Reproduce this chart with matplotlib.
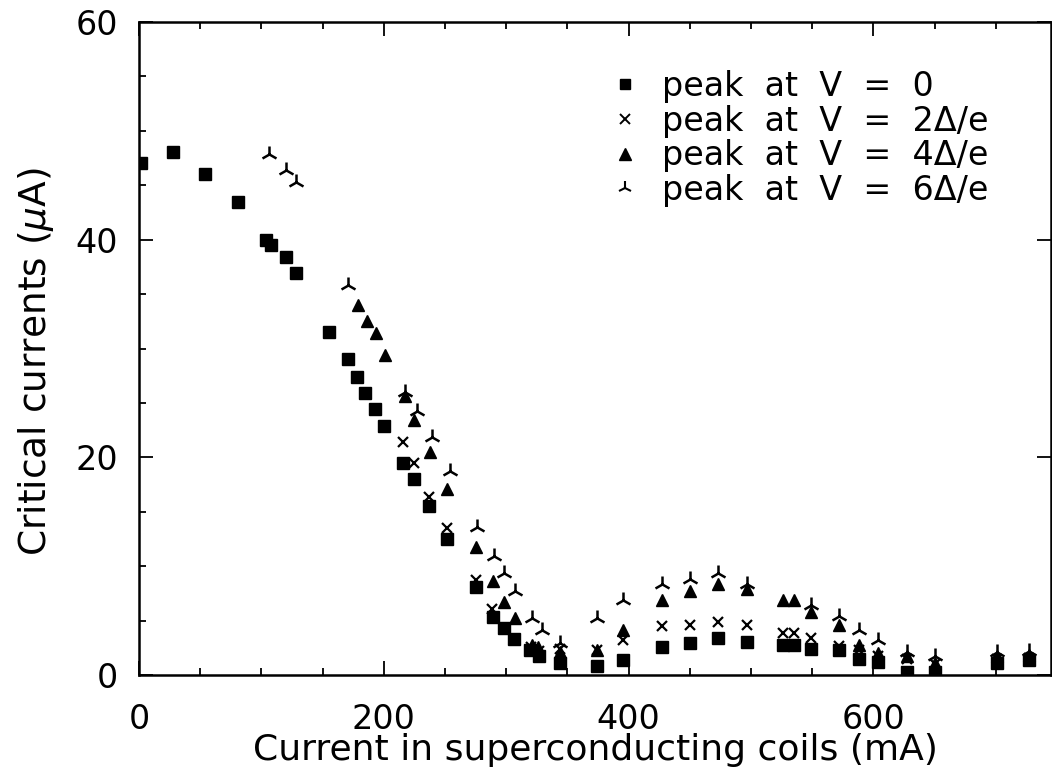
import matplotlib
matplotlib.use("Agg")
import matplotlib.pyplot as plt
from matplotlib.ticker import MultipleLocator, FixedLocator
from matplotlib.lines import Line2D

# ---- data ----
x_v0 = [2, 28, 54, 81, 104, 108, 120, 128, 155, 171, 178, 185, 193, 200, 216, 225,
        237, 252, 275, 289, 298, 306, 319, 327, 344, 374, 395, 427, 450, 473, 497,
        526, 535, 549, 572, 588, 604, 627, 650, 701, 727]
y_v0 = [47.0, 48.1, 46.0, 43.5, 40.0, 39.5, 38.4, 36.9, 31.5, 29.0, 27.4, 25.9, 24.4,
        22.9, 19.5, 18.0, 15.5, 12.5, 8.1, 5.3, 4.3, 3.3, 2.3, 1.7, 1.1, 0.8, 1.4, 2.6,
        2.9, 3.4, 3.0, 2.8, 2.8, 2.4, 2.3, 1.5, 1.2, 0.3, 0.3, 1.1, 1.4]

x_v2 = [216, 225, 237, 252, 275, 288, 320, 327, 344, 374, 395, 427, 450, 473, 497,
        526, 535, 549, 572, 588, 604, 627, 650, 701, 727]
y_v2 = [21.4, 19.5, 16.4, 13.5, 8.7, 6.1, 2.6, 2.2, 2.4, 2.3, 3.2, 4.5, 4.6, 4.9, 4.6,
        3.9, 3.9, 3.4, 2.7, 2.3, 1.7, 1.5, 1.0, 1.5, 1.6]

x_v4 = [179, 186, 194, 201, 217, 225, 238, 252, 275, 289, 298, 307, 321, 326, 344,
        374, 395, 427, 450, 473, 497, 526, 535, 549, 572, 588, 604, 627, 650, 701, 727]
y_v4 = [34.0, 32.5, 31.4, 29.4, 25.6, 23.4, 20.5, 17.1, 11.8, 8.6, 6.7, 5.2, 2.8, 2.6,
        2.1, 2.3, 4.1, 6.9, 7.7, 8.4, 7.9, 6.9, 6.9, 5.8, 4.6, 2.8, 2.0, 1.7, 1.1, 1.7, 1.8]

x_v6 = [106, 120, 128, 171, 217, 227, 239, 254, 276, 290, 298, 307, 321, 329, 344,
        374, 395, 427, 450, 473, 497, 549, 572, 588, 604, 627, 650, 701, 727]
y_v6 = [47.9, 46.4, 45.3, 35.8, 26.0, 24.3, 21.9, 18.7, 13.6, 10.9, 9.4, 7.7, 5.2, 4.1,
        2.9, 5.2, 6.9, 8.4, 8.8, 9.4, 8.4, 6.4, 5.4, 4.1, 3.2, 2.1, 1.7, 2.1, 2.2]

labels = ["peak  at  V  =  0", "peak  at  V  =  2Δ/e",
          "peak  at  V  =  4Δ/e", "peak  at  V  =  6Δ/e"]
xticks = [0, 200, 400, 600]
yticks = [0, 20, 40, 60]

plt.rcParams['font.family'] = ['DejaVu Sans']

fig = plt.figure(figsize=(10.52, 7.71), dpi=100)
W, H = 1052, 771
L, R, T, B = 139, 1051, 22, 675
ax = fig.add_axes([L / W, 1 - B / H, (R - L) / W, (B - T) / H])

ax.plot(x_v0, y_v0, ls='none', marker='s', ms=8.5, color='black')
ax.plot(x_v2, y_v2, ls='none', marker='x', ms=7.5, mew=1.6, color='black')
ax.plot(x_v4, y_v4, ls='none', marker='^', ms=9, color='black')
ax.plot(x_v6, y_v6, ls='none', marker='2', ms=12, mew=1.8, color='black')

ax.set_xlim(0, 745)
ax.set_ylim(0, 60)

ax.xaxis.set_major_locator(FixedLocator(xticks))
ax.xaxis.set_minor_locator(MultipleLocator(50))
ax.yaxis.set_major_locator(FixedLocator(yticks))
ax.yaxis.set_minor_locator(MultipleLocator(5))
ax.tick_params(which='both', direction='in', top=True, right=True, width=1.3, labelsize=24)
ax.tick_params(which='major', length=10)
ax.tick_params(which='minor', length=5)
ax.tick_params(axis='y', which='minor', right=False)
ax.tick_params(axis='x', pad=20)
ax.tick_params(axis='y', pad=15)
for s in ax.spines.values():
    s.set_linewidth(1.8)

fig.text(595 / W, 1 - 760 / H, "Current in superconducting coils (mA)", fontsize=26,
         ha='center', va='baseline')
fig.text(36 / W, 1 - 362 / H, r"Critical currents ($\mu$A)", rotation=90,
         fontsize=27, ha='center', va='center')

handles = [
    Line2D([], [], ls='none', marker='s', ms=7, color='black'),
    Line2D([], [], ls='none', marker='x', ms=6.5, mew=1.4, color='black'),
    Line2D([], [], ls='none', marker='^', ms=8, color='black'),
    Line2D([], [], ls='none', marker='2', ms=10, mew=1.5, color='black'),
]
ax.legend(handles, labels, loc='upper left',
          bbox_to_anchor=((612 - L) / (R - L), 1 - (70 - T) / (B - T)),
          frameon=False, fontsize=24, handlelength=0.8, handletextpad=0.7,
          labelspacing=0.05, borderpad=0, borderaxespad=0)

fig.savefig("out.png", dpi=100)
